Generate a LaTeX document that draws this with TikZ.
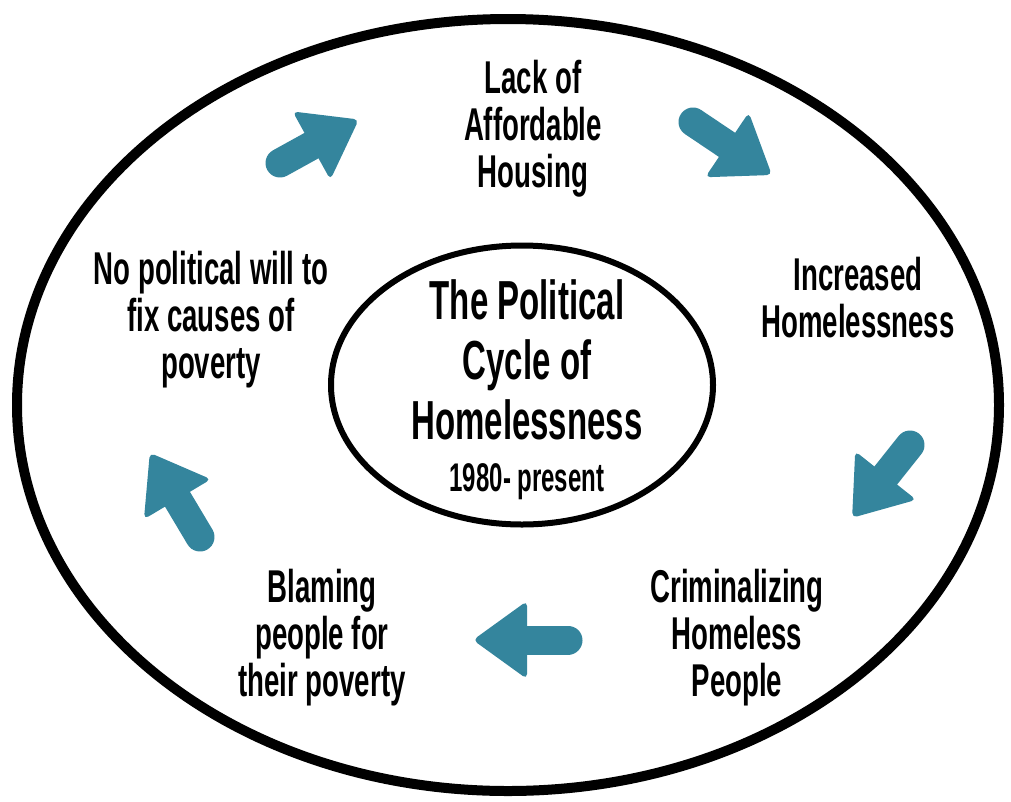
\documentclass[tikz,border=0pt]{standalone}
\usepackage{fontspec}
\usetikzlibrary{shapes.geometric}
\newfontfamily\cond{Liberation Sans}[UprightFont=* Bold, FakeStretch=0.6]
\definecolor{arrowc}{RGB}{52,133,157}
\tikzset{
  lbl/.style={font=\cond\fontsize{46}{47}\selectfont, align=center, inner sep=0pt},
  title/.style={font=\cond\fontsize{55}{60}\selectfont, align=center, inner sep=0pt},
  pics/blockarr/.style={code={
    \draw[arrowc, line width=29pt, line cap=round] (0,0) -- (#1-48,0);
    \fill[arrowc, rounded corners=5pt] (#1-54,-39) -- (#1,0) -- (#1-54,39) -- cycle;
  }}
}
\begin{document}
\begin{tikzpicture}[x=1pt,y=-1pt]
\useasboundingbox (0,0) rectangle (1011,801);
\fill[white] (0,0) rectangle (1011,801);
\draw[line width=10pt] (508,405) ellipse [x radius=491, y radius=386];
\node[draw, line width=6pt, ellipse, minimum width=382pt, minimum height=279pt, inner sep=0pt] (core) at (522,385) {};
\node[title] (ttl) at (527,390) {The Political\\Cycle of\\Homelessness\\[-8pt]{\fontsize{40}{44}\selectfont 1980- present}};
\node[lbl] (lack) at (533,129) {Lack of\\Affordable\\Housing};
\node[lbl] (incr) at (858,298) {Increased\\Homelessness};
\node[lbl] (crim) at (737,638) {Criminalizing\\Homeless\\People};
\node[lbl] (blam) at (322,638) {Blaming\\people for\\their poverty};
\node[lbl] (nopol) at (211,320) {No political will to\\fix causes of\\poverty};
\pic[rotate=28.9] at (280,163) {blockarr=90};
\pic[rotate=-33.9] at (693,122) {blockarr=95};
\pic[rotate=-128.5] at (910,445) {blockarr=93};
\pic[rotate=180] at (568,640) {blockarr=95};
\pic[rotate=120.8] at (200,537) {blockarr=98};
\end{tikzpicture}
\end{document}
